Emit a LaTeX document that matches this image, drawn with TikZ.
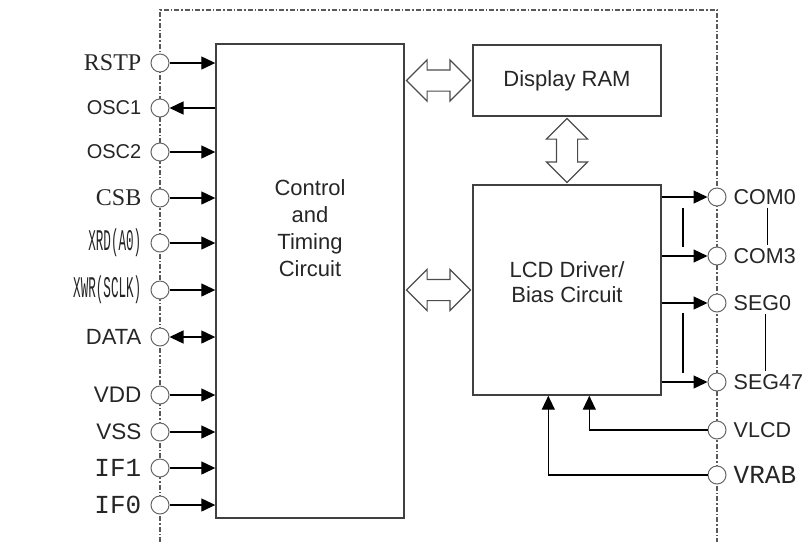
\documentclass[tikz,border=0pt]{standalone}
\usepackage{fontspec}
\setmainfont{Liberation Sans}
\newfontfamily\pinserif{Liberation Serif}
\newfontfamily\pinmono{Liberation Mono}
\newfontfamily\pinnarrow[FakeStretch=0.42]{Liberation Mono}
\usepackage{tikz}
\usetikzlibrary{arrows.meta,shapes.arrows,calc}
\newcommand{\tikzLeftPin}[4]{
  \node[pin] (#1) at (160,#2) {};
  \node[pinname,anchor=east,font=#3] (#1-l) at ([xshift=-9pt]#1.west) {#4};
}
\newcommand{\tikzRightPin}[3]{
  \node[pin] (#1) at (717,#2) {};
  \node[pinname,anchor=west] (#1-l) at ([xshift=7pt]#1.east) {#3};
}

\begin{document}
\begin{tikzpicture}[x=1pt,y=-1pt,
  blockbox/.style={draw=black!75,line width=1.4pt,rectangle,inner sep=0pt,minimum width=188pt},
  pin/.style={draw=black!60,fill=white,circle,line width=1pt,minimum size=18pt,inner sep=0pt},
  pinname/.style={inner sep=0pt,text=black!85,font=\fontsize{21.5}{24}\selectfont},
  sig/.style={line width=1.3pt,-{Triangle[length=14pt,width=13pt]}},
  sigboth/.style={line width=1.3pt,{Triangle[length=14pt,width=13pt]}-{Triangle[length=14pt,width=13pt]}},
  bus/.style={draw=black!70,line width=1.2pt,double arrow,double arrow head extend=10pt,
    inner xsep=0pt,inner ysep=10pt,minimum height=64pt},
  frame/.style={draw=black!65,line width=1.6pt,dash pattern=on 5pt off 2pt on 1.5pt off 2pt},
  blocktext/.style={align=center,text=black!85,font=\fontsize{22}{27}\selectfont}]
  \useasboundingbox (0,0) rectangle (806,542);

  % chip outline
  \draw[frame] (160,542) -- (160,10) -- (717,10) -- (717,542);

  % blocks
  \node[blockbox,minimum height=474pt] (ctrl) at (310,281) {};
  \node[blocktext] (ctrl-t) at ([yshift=53pt]ctrl.center) {Control\\and\\Timing\\Circuit};
  \node[blockbox,minimum height=71pt,font=\fontsize{22}{24}\selectfont,text=black!85] (ram) at (567,80.5) {Display RAM};
  \node[blockbox,minimum height=210pt] (lcd) at (567,290) {};
  \node[blocktext,font=\fontsize{22}{25}\selectfont] (lcd-t) at ([yshift=8pt]lcd.center) {LCD Driver/\\Bias Circuit};

  % buses
  \node[bus] (bus1) at ($(ctrl.east |- ram)!0.5!(ram.west)$) {};
  \node[bus] (bus2) at ($(ctrl.east |- lcd)!0.5!(lcd.west)$) {};
  \node[bus,rotate=90] (bus3) at ($(ram.south)!0.5!(lcd.north)$) {};

  % left pins
  \tikzLeftPin{rstp}{63}{\pinserif\fontsize{24}{26}\selectfont}{RSTP}
  \tikzLeftPin{osc1}{108}{\fontsize{20}{22}\selectfont}{OSC1}
  \tikzLeftPin{osc2}{152}{\fontsize{20}{22}\selectfont}{OSC2}
  \tikzLeftPin{csb}{198}{\pinserif\fontsize{24}{26}\selectfont}{CSB}
  \tikzLeftPin{xrd}{243}{\pinnarrow\fontsize{30}{32}\selectfont}{XRD(A0)}
  \tikzLeftPin{xwr}{290}{\pinnarrow\fontsize{30}{32}\selectfont}{XWR(SCLK)}
  \tikzLeftPin{data}{337}{\fontsize{22}{24}\selectfont}{DATA}
  \tikzLeftPin{vdd}{395}{\fontsize{22.5}{24}\selectfont}{VDD}
  \tikzLeftPin{vss}{432}{\fontsize{22.5}{24}\selectfont}{VSS}
  \tikzLeftPin{if1}{468}{\pinmono\fontsize{26}{28}\selectfont}{IF1}
  \tikzLeftPin{if0}{505}{\pinmono\fontsize{26}{28}\selectfont}{IF0}

  \foreach \p in {rstp,osc2,csb,xrd,xwr,vdd,vss,if1,if0}
    \draw[sig] (\p) -- (\p -| ctrl.west);
  \draw[sig] (osc1 -| ctrl.west) -- (osc1);
  \draw[sigboth] (data) -- (data -| ctrl.west);

  % right pins
  \tikzRightPin{com0}{197}{COM0}
  \tikzRightPin{com3}{256}{COM3}
  \tikzRightPin{seg0}{303}{SEG0}
  \tikzRightPin{seg47}{382}{SEG47}
  \tikzRightPin{vlcd}{430}{VLCD}
  \node[pin] (vrab) at (717,475) {};
  \node[pinname,anchor=west,font=\pinmono\fontsize{26}{28}\selectfont] (vrab-l) at ([xshift=7pt]vrab.east) {VRAB};

  \foreach \p in {com0,com3,seg0,seg47}
    \draw[sig] (\p -| lcd.east) -- (\p);
  \draw[sig] (vlcd) -| ($(lcd.south west)+(117,0)$);
  \draw[sig] (vrab) -| ($(lcd.south west)+(76,0)$);

  % ranges
  \draw[line width=1.3pt] (683,208) -- (683,247) (683,313) -- (683,373);
  \draw[line width=1.1pt] ($(com0-l.south)+(3,3)$) -- ($(com0-l.south |- com3-l.north)+(3,-3)$);
  \draw[line width=1.1pt] ($(seg0-l.south)+(3,3)$) -- ($(seg0-l.south |- seg47-l.north)+(3,-3)$);
\end{tikzpicture}
\end{document}
